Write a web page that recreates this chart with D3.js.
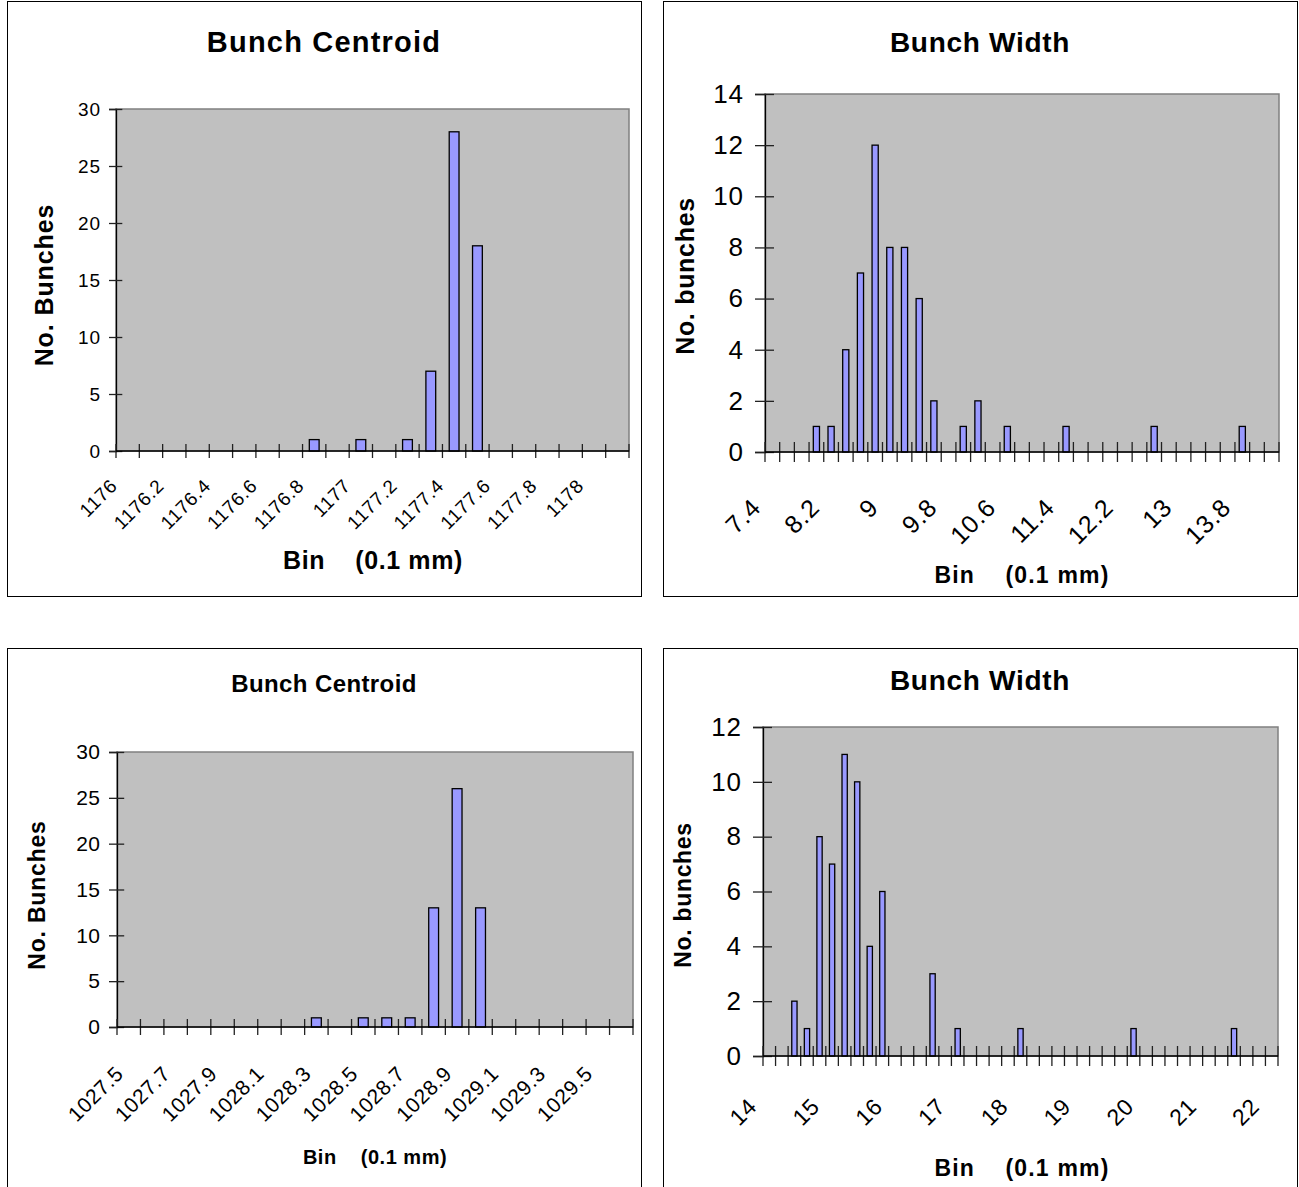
<!DOCTYPE html>
<html>
<head>
<meta charset="utf-8">
<script src="https://cdn.jsdelivr.net/npm/d3@7"></script>
<style>
  html, body { margin: 0; padding: 0; background: #fff; }
  svg { display: block; }
  text { font-family: "Liberation Sans", Arial, sans-serif; fill: #000; }
</style>
</head>
<body>
<svg id="chart" width="1299" height="1187"></svg>
<script>
// ---- Bunch centroid, first run (bin in 0.1 mm) ----
const centroidTopBins = ["1176","1176.1","1176.2","1176.3","1176.4","1176.5","1176.6","1176.7","1176.8","1176.9",
  "1177","1177.1","1177.2","1177.3","1177.4","1177.5","1177.6","1177.7","1177.8","1177.9","1178","1178.1"];
const centroidTopCounts = [0,0,0,0,0,0,0,0,1,0,1,0,1,7,28,18,0,0,0,0,0,0];
const centroidTopTickLabels = ["1176","1176.2","1176.4","1176.6","1176.8","1177","1177.2","1177.4","1177.6","1177.8","1178"];
const centroidTopYTicks = [0,5,10,15,20,25,30];

// ---- Bunch width, first run ----
const widthTopBins = ["7.4","7.6","7.8","8","8.2","8.4","8.6","8.8","9","9.2","9.4","9.6","9.8","10","10.2","10.4",
  "10.6","10.8","11","11.2","11.4","11.6","11.8","12","12.2","12.4","12.6","12.8","13","13.2","13.4","13.6","13.8","14","14.2"];
const widthTopCounts = [0,0,0,1,1,4,7,12,8,8,6,2,0,1,2,0,1,0,0,0,1,0,0,0,0,0,1,0,0,0,0,0,1,0,0];
const widthTopTickLabels = ["7.4","8.2","9","9.8","10.6","11.4","12.2","13","13.8"];
const widthTopYTicks = [0,2,4,6,8,10,12,14];

// ---- Bunch centroid, second run ----
const centroidBottomBins = ["1027.5","1027.6","1027.7","1027.8","1027.9","1028","1028.1","1028.2","1028.3","1028.4","1028.5",
  "1028.6","1028.7","1028.8","1028.9","1029","1029.1","1029.2","1029.3","1029.4","1029.5","1029.6"];
const centroidBottomCounts = [0,0,0,0,0,0,0,0,1,0,1,1,1,13,26,13,0,0,0,0,0,0];
const centroidBottomTickLabels = ["1027.5","1027.7","1027.9","1028.1","1028.3","1028.5","1028.7","1028.9","1029.1","1029.3","1029.5"];
const centroidBottomYTicks = [0,5,10,15,20,25,30];

// ---- Bunch width, second run ----
const widthBottomBins = ["14","14.2","14.4","14.6","14.8","15","15.2","15.4","15.6","15.8","16","16.2","16.4","16.6","16.8",
  "17","17.2","17.4","17.6","17.8","18","18.2","18.4","18.6","18.8","19","19.2","19.4","19.6","19.8","20","20.2","20.4",
  "20.6","20.8","21","21.2","21.4","21.6","21.8","22"];
const widthBottomCounts = [0,0,2,1,8,7,11,10,4,6,0,0,0,3,0,1,0,0,0,0,1,0,0,0,0,0,0,0,0,1,0,0,0,0,0,0,0,1,0,0,0];
const widthBottomTickLabels = ["14","15","16","17","18","19","20","21","22"];
const widthBottomYTicks = [0,2,4,6,8,10,12];

const xTitleText = "Bin\u00a0\u00a0\u00a0\u00a0(0.1 mm)";

// Panel layout: frame, plot area and text placement ([size, letter-spacing] for each text kind)
const panels = [
  { title: "Bunch Centroid", yTitle: "No. Bunches",
    bins: centroidTopBins, counts: centroidTopCounts, tickLabels: centroidTopTickLabels, yTicks: centroidTopYTicks,
    frame: [7, 1, 641, 596], plot: [116, 109, 629, 451],
    titlePos: [324, 42], titleFont: [29, 1.2], yTitlePos: [44, 285], yTitleFont: [25, 0.9],
    xTitlePos: [373, 560], xTitleFont: [25, 0.6], yLabelFont: [19, 0.8], yLabelGap: 16,
    xLabelFont: [19, 0.8], xLabelOff: [-9, 36], tick: 7 },
  { title: "Bunch Width", yTitle: "No. bunches",
    bins: widthTopBins, counts: widthTopCounts, tickLabels: widthTopTickLabels, yTicks: widthTopYTicks,
    frame: [663, 1, 1297, 596], plot: [765, 94, 1279, 452],
    titlePos: [980, 42], titleFont: [28, 0.7], yTitlePos: [685, 276], yTitleFont: [25, 0.7],
    xTitlePos: [1022, 575], xTitleFont: [23, 1.2], yLabelFont: [26, 0.8], yLabelGap: 22,
    xLabelFont: [25, 0.8], xLabelOff: [-10, 57], tick: 10 },
  { title: "Bunch Centroid", yTitle: "No. Bunches",
    bins: centroidBottomBins, counts: centroidBottomCounts, tickLabels: centroidBottomTickLabels, yTicks: centroidBottomYTicks,
    frame: [7, 648, 641, 1195], plot: [117, 752, 633, 1027],
    titlePos: [324, 683], titleFont: [24, 0.4], yTitlePos: [37, 895], yTitleFont: [23, 0.8],
    xTitlePos: [375, 1157], xTitleFont: [20, 0.5], yLabelFont: [21, 0.5], yLabelGap: 17,
    xLabelFont: [21, 0.6], xLabelOff: [-4, 48], tick: 8 },
  { title: "Bunch Width", yTitle: "No. bunches",
    bins: widthBottomBins, counts: widthBottomCounts, tickLabels: widthBottomTickLabels, yTicks: widthBottomYTicks,
    frame: [663, 648, 1297, 1195], plot: [763, 727, 1278, 1056],
    titlePos: [980, 680], titleFont: [28, 0.7], yTitlePos: [683, 895], yTitleFont: [23, 0.7],
    xTitlePos: [1022, 1168], xTitleFont: [23, 1.2], yLabelFont: [26, 0.8], yLabelGap: 22,
    xLabelFont: [23, 0.6], xLabelOff: [-11, 52], tick: 10 }
];

const svg = d3.select("#chart");

function setFont(sel, f, bold) {
  sel.style("font-size", f[0] + "px")
     .style("letter-spacing", f[1] + "px")
     .style("font-family", "'Liberation Sans', Arial, sans-serif");
  if (bold) sel.style("font-weight", "bold");
  return sel;
}

panels.forEach(p => {
  const g = svg.append("g");
  const [fx0, fy0, fx1, fy1] = p.frame;
  const [px0, py0, px1, py1] = p.plot;

  // outer chart frame
  g.append("rect")
    .attr("x", fx0 + 0.5).attr("y", fy0 + 0.5)
    .attr("width", fx1 - fx0).attr("height", fy1 - fy0)
    .attr("fill", "#fff").attr("stroke", "#000").attr("stroke-width", 1);

  // plot area
  g.append("rect")
    .attr("x", px0).attr("y", py0)
    .attr("width", px1 - px0).attr("height", py1 - py0)
    .attr("fill", "#c0c0c0").attr("stroke", "#808080").attr("stroke-width", 1.5);

  const x = d3.scaleBand().domain(p.bins).range([px0, px1]).padding(0);
  const yMax = p.yTicks[p.yTicks.length - 1];
  const y = d3.scaleLinear().domain([0, yMax]).range([py1, py0]);
  const step = x.step();
  const barW = step * 0.42;

  // bars
  g.append("g").selectAll("rect")
    .data(p.bins.map((b, i) => ({ bin: b, n: p.counts[i] })).filter(d => d.n > 0))
    .join("rect")
    .attr("x", d => x(d.bin) + (step - barW) / 2)
    .attr("y", d => y(d.n))
    .attr("width", barW)
    .attr("height", d => y(0) - y(d.n))
    .attr("fill", "#9999ff")
    .attr("stroke", "#000")
    .attr("stroke-width", 1.3);

  // y axis
  const yAxis = d3.axisLeft(y).tickValues(p.yTicks).tickSize(p.tick).tickPadding(p.yLabelGap - p.tick - p.yLabelFont[1]);
  const ya = g.append("g").attr("transform", `translate(${px0},0)`).call(yAxis);
  ya.select(".domain").attr("stroke", "#000").attr("stroke-width", 1.3);
  ya.selectAll(".tick line").attr("x1", p.tick * 0.9).attr("stroke", "#222").attr("stroke-width", 1.3);
  setFont(ya.selectAll(".tick text"), p.yLabelFont).attr("fill", "#000");

  // x axis: ticks on every bin boundary crossing the axis
  const bounds = p.bins.map(b => x(b)).concat([x.range()[1]]);
  g.append("g").selectAll("line")
    .data(bounds)
    .join("line")
    .attr("x1", d => d).attr("x2", d => d)
    .attr("y1", py1 - p.tick).attr("y2", py1 + p.tick)
    .attr("stroke", "#222").attr("stroke-width", 1.3);
  g.append("line")
    .attr("x1", px0).attr("x2", px1).attr("y1", py1).attr("y2", py1)
    .attr("stroke", "#000").attr("stroke-width", 1.5);

  // rotated category labels
  setFont(g.append("g").selectAll("text")
    .data(p.tickLabels)
    .join("text")
    .attr("transform", d => `translate(${x(d) + step / 2 + p.xLabelOff[0]},${py1 + p.xLabelOff[1]}) rotate(-45)`)
    .attr("text-anchor", "end"), p.xLabelFont)
    .text(d => d);

  // titles
  setFont(g.append("text")
    .attr("x", p.titlePos[0]).attr("y", p.titlePos[1])
    .attr("text-anchor", "middle").attr("dominant-baseline", "central"), p.titleFont, true)
    .text(p.title);

  setFont(g.append("text")
    .attr("transform", `translate(${p.yTitlePos[0]},${p.yTitlePos[1]}) rotate(-90)`)
    .attr("text-anchor", "middle").attr("dominant-baseline", "central"), p.yTitleFont, true)
    .text(p.yTitle);

  setFont(g.append("text")
    .attr("x", p.xTitlePos[0]).attr("y", p.xTitlePos[1])
    .attr("text-anchor", "middle").attr("dominant-baseline", "central"), p.xTitleFont, true)
    .text(xTitleText);
});
</script>
</body>
</html>
